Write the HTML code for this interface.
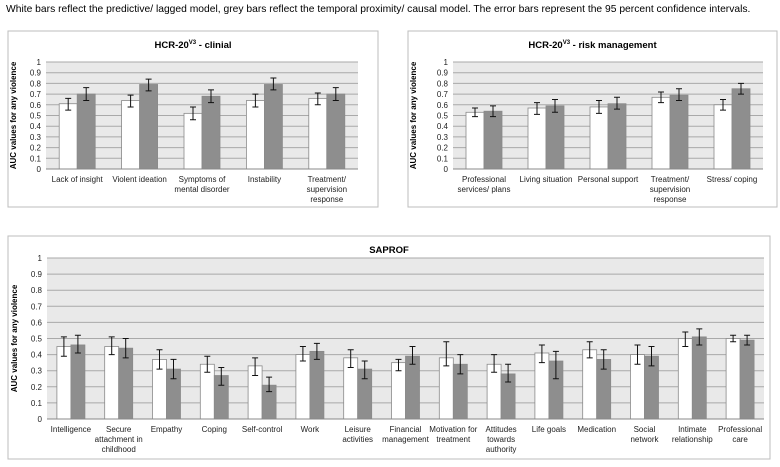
<!DOCTYPE html>
<html><head><meta charset="utf-8">
<style>
body{margin:0;background:#fff;width:780px;height:467px;overflow:hidden;font-family:"Liberation Sans",sans-serif;}
svg{position:absolute;left:0;top:0}
</style></head>
<body>
<svg id="s" width="780" height="467" xmlns="http://www.w3.org/2000/svg">
<text x="6" y="12" font-size="10.3" fill="#000">White bars reflect the predictive/ lagged model, grey bars reflect the temporal proximity/ causal model. The error bars represent the 95 percent confidence intervals.</text>
</svg>
<script>
const clinCats=[["Lack of insight"],["Violent ideation"],["Symptoms of","mental disorder"],["Instability"],["Treatment/","supervision","response"]];
const clinWhite=[0.61,0.64,0.52,0.64,0.66];
const clinWhiteLo=[0.55,0.58,0.46,0.58,0.60];
const clinWhiteHi=[0.66,0.69,0.58,0.70,0.71];
const clinGrey=[0.70,0.79,0.68,0.79,0.70];
const clinGreyLo=[0.64,0.73,0.62,0.74,0.64];
const clinGreyHi=[0.76,0.84,0.74,0.85,0.76];
const riskCats=[["Professional","services/ plans"],["Living situation"],["Personal support"],["Treatment/","supervision","response"],["Stress/ coping"]];
const riskWhite=[0.53,0.57,0.58,0.67,0.60];
const riskWhiteLo=[0.49,0.51,0.52,0.62,0.55];
const riskWhiteHi=[0.57,0.62,0.64,0.72,0.65];
const riskGrey=[0.54,0.59,0.61,0.69,0.75];
const riskGreyLo=[0.49,0.53,0.56,0.64,0.70];
const riskGreyHi=[0.59,0.65,0.67,0.75,0.80];
const sapCats=[["Intelligence"],["Secure","attachment in","childhood"],["Empathy"],["Coping"],["Self-control"],["Work"],["Leisure","activities"],["Financial","management"],["Motivation for","treatment"],["Attitudes","towards","authority"],["Life goals"],["Medication"],["Social","network"],["Intimate","relationship"],["Professional","care"]];
const sapWhite=[0.45,0.45,0.37,0.34,0.33,0.40,0.38,0.35,0.38,0.34,0.41,0.43,0.40,0.50,0.50];
const sapWhiteLo=[0.39,0.40,0.31,0.29,0.27,0.36,0.32,0.30,0.33,0.29,0.35,0.38,0.34,0.45,0.48];
const sapWhiteHi=[0.51,0.51,0.43,0.39,0.38,0.45,0.43,0.37,0.48,0.40,0.46,0.48,0.46,0.54,0.52];
const sapGrey=[0.46,0.44,0.31,0.27,0.21,0.42,0.31,0.39,0.34,0.28,0.36,0.37,0.39,0.51,0.49];
const sapGreyLo=[0.41,0.38,0.25,0.21,0.17,0.37,0.25,0.34,0.28,0.23,0.25,0.31,0.33,0.46,0.46];
const sapGreyHi=[0.52,0.50,0.37,0.32,0.26,0.47,0.36,0.45,0.40,0.34,0.42,0.43,0.45,0.56,0.52];
const yTicks=[0,0.1,0.2,0.3,0.4,0.5,0.6,0.7,0.8,0.9,1];
const yTickLabels=["0","0.1","0.2","0.3","0.4","0.5","0.6","0.7","0.8","0.9","1"];

const NS="http://www.w3.org/2000/svg";
const svg=document.getElementById('s');
function mk(tag,attrs,parent){const e=document.createElementNS(NS,tag);for(const k in attrs)e.setAttribute(k,attrs[k]);(parent||svg).appendChild(e);return e;}

function chart(o){
  const g=mk('g',{});
  
  
  const fr=mk('rect',{x:o.fx,y:o.fy,width:o.fw,height:o.fh,fill:'#fff',stroke:'#bdbdbd','stroke-width':1},g);
  
  
  const t=mk('text',{x:o.fx+o.fw/2,y:o.fy+17,'font-size':9.5,'font-weight':'bold','text-anchor':'middle'},g);
  t.innerHTML=o.title;
  
  
  const y=v=>o.py+o.ph*(1-v);
  const bg=mk('rect',{x:o.px,y:o.py,width:o.pw,height:o.ph,fill:'#e9e9e9'},g);
  
  
  yTicks.forEach((v,i)=>{
    const l=mk('line',{x1:o.px,x2:o.px+o.pw,y1:y(v),y2:y(v),stroke:'#a9a9a9','stroke-width':1},g);
    
    
    const tl=mk('text',{x:o.px-5,y:y(v)+3,'font-size':8,'text-anchor':'end',fill:'#222'},g);
    tl.textContent=yTickLabels[i];
    
    
  });
  const cx=o.ytx, cy=o.py+o.ph/2;
  const yt=mk('text',{x:cx,y:cy,'font-size':8,'font-weight':'bold','text-anchor':'middle',transform:`rotate(-90 ${cx} ${cy})`},g);
  yt.textContent='AUC values for any violence';
  
  
  const n=o.cats.length, cw=o.pw/n;
  const series=[[o.w,o.wl,o.wh,'#ffffff','white-bar'],[o.g,o.gl,o.gh,'#8e8e8e','grey-bar']];
  for(let i=0;i<n;i++){
    const c=o.px+cw*(i+0.5);
    series.forEach((s,k)=>{
      const x0=k===0?c-o.bw:c;
      const b=mk('rect',{x:x0,y:y(s[0][i]),width:o.bw,height:y(0)-y(s[0][i]),fill:s[3],stroke:'#8a8a8a','stroke-width':0.8},g);
      
      
      const mx=x0+o.bw/2;
      const e=mk('path',{d:`M${mx},${y(s[1][i])}V${y(s[2][i])}M${mx-3},${y(s[1][i])}h6M${mx-3},${y(s[2][i])}h6`,stroke:'#111','stroke-width':1,fill:'none'},g);
      
      
    });
    o.cats[i].forEach((ln,j)=>{
      const tx=mk('text',{x:c,y:y(0)+13+j*10,'font-size':8,'text-anchor':'middle',fill:'#222'},g);
      tx.textContent=ln;
      
      
    });
  }
  const ax=mk('line',{x1:o.px,x2:o.px+o.pw,y1:y(0),y2:y(0),stroke:'#888'},g);
  
  
}
chart({name:'hcr-clinical-chart',title:'HCR-20<tspan font-size="6" dy="-4">V3</tspan><tspan dy="4"> - clinial</tspan>',fx:8,fy:31,fw:370,fh:176,px:46,py:62,pw:312,ph:107,bw:18,ytx:16,cats:clinCats,w:clinWhite,wl:clinWhiteLo,wh:clinWhiteHi,g:clinGrey,gl:clinGreyLo,gh:clinGreyHi});
chart({name:'hcr-risk-chart',title:'HCR-20<tspan font-size="6" dy="-4">V3</tspan><tspan dy="4"> - risk management</tspan>',fx:408,fy:31,fw:369,fh:176,px:453,py:62,pw:310,ph:107,bw:18,ytx:416,cats:riskCats,w:riskWhite,wl:riskWhiteLo,wh:riskWhiteHi,g:riskGrey,gl:riskGreyLo,gh:riskGreyHi});
chart({name:'saprof-chart',title:'SAPROF',fx:8,fy:236,fw:762,fh:223,px:47,py:258,pw:717,ph:161,bw:14,ytx:17,cats:sapCats,w:sapWhite,wl:sapWhiteLo,wh:sapWhiteHi,g:sapGrey,gl:sapGreyLo,gh:sapGreyHi});
</script>
</body></html>
